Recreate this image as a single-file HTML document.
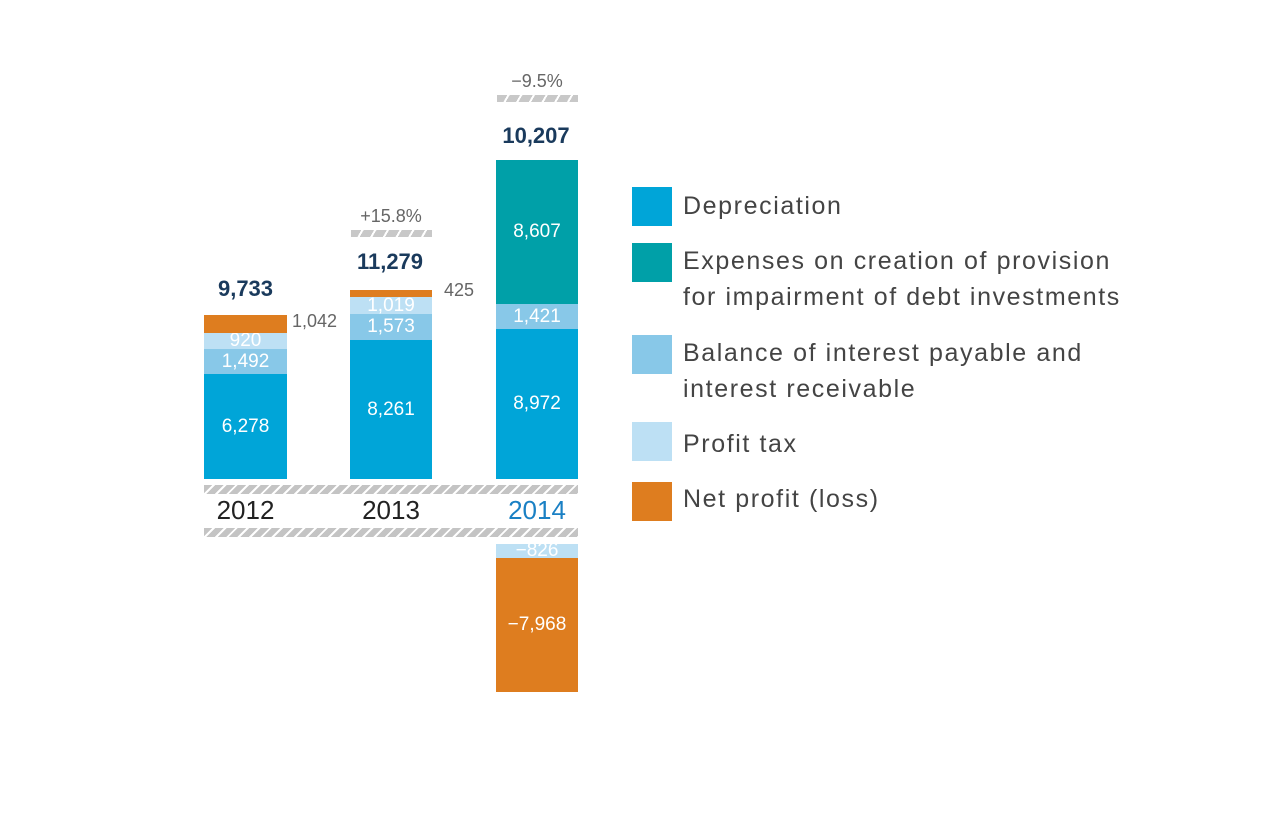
<!DOCTYPE html><html><head><style>
body{margin:0;width:1282px;height:830px;background:#fff;position:relative;font-family:"Liberation Sans",sans-serif;overflow:hidden}
.a{position:absolute}
.b{position:absolute;display:flex;align-items:center;justify-content:center;color:#fff;font-size:19px}
.h{position:absolute;background:repeating-linear-gradient(135deg,#c4c4c4 0 6px,#fff 6px 8px)}
.h2{position:absolute;background:repeating-linear-gradient(120deg,#c8c8c8 0 9px,#fff 9px 11px)}
.t{position:absolute;text-align:center;font-weight:bold;color:#1a3a5c;font-size:22px}
.g{position:absolute;color:#666;font-size:18px}
.sq{position:absolute;left:632px;width:40px;height:39px}
.lt{position:absolute;left:683px;font-size:25px;color:#444;line-height:36px;letter-spacing:1.6px;white-space:nowrap}
</style></head><body>
<div class="b" style="left:204px;width:83px;top:374px;height:105px;background:#00a5d8">6,278</div>
<div class="b" style="left:204px;width:83px;top:349px;height:25px;background:#88c8e8">1,492</div>
<div class="b" style="left:204px;width:83px;top:333px;height:16px;background:#bde0f4">920</div>
<div class="b" style="left:204px;width:83px;top:315px;height:18px;background:#de7d1f"></div>
<div class="g" style="left:292px;top:311px">1,042</div>
<div class="t" style="left:204px;width:83px;top:276px">9,733</div>

<div class="b" style="left:350px;width:82px;top:340px;height:139px;background:#00a5d8">8,261</div>
<div class="b" style="left:350px;width:82px;top:314px;height:26px;background:#88c8e8">1,573</div>
<div class="b" style="left:350px;width:82px;top:297px;height:17px;background:#bde0f4">1,019</div>
<div class="b" style="left:350px;width:82px;top:290px;height:7px;background:#de7d1f"></div>
<div class="g" style="left:444px;top:280px">425</div>
<div class="t" style="left:340px;width:100px;top:249px">11,279</div>
<div class="g" style="left:350px;width:82px;text-align:center;top:206px">+15.8%</div>
<div class="h2" style="left:351px;width:81px;top:230px;height:7px"></div>

<div class="b" style="left:496px;width:82px;top:329px;height:150px;background:#00a5d8">8,972</div>
<div class="b" style="left:496px;width:82px;top:304px;height:25px;background:#88c8e8">1,421</div>
<div class="b" style="left:496px;width:82px;top:160px;height:144px;background:#00a0a8">8,607</div>
<div class="t" style="left:486px;width:100px;top:123px">10,207</div>
<div class="g" style="left:496px;width:82px;text-align:center;top:71px">−9.5%</div>
<div class="h2" style="left:497px;width:81px;top:95px;height:7px"></div>

<div class="h" style="left:204px;width:374px;top:485px;height:9px"></div>
<div class="h" style="left:204px;width:374px;top:528px;height:9px"></div>
<div class="a" style="left:204px;width:83px;text-align:center;top:495px;font-size:26px;color:#222">2012</div>
<div class="a" style="left:350px;width:82px;text-align:center;top:495px;font-size:26px;color:#222">2013</div>
<div class="a" style="left:496px;width:82px;text-align:center;top:495px;font-size:26px;color:#1a80c4">2014</div>

<div class="b" style="left:496px;width:82px;top:544px;height:14px;background:#bde0f4">−826</div>
<div class="b" style="left:496px;width:82px;top:558px;height:134px;background:#de7d1f">−7,968</div>

<div class="sq" style="top:187px;background:#00a5d8"></div>
<div class="lt" style="top:188px">Depreciation</div>
<div class="sq" style="top:243px;background:#00a0a8"></div>
<div class="lt" style="top:243px">Expenses on creation of provision<br>for impairment of debt investments</div>
<div class="sq" style="top:335px;background:#88c8e8"></div>
<div class="lt" style="top:335px">Balance of interest payable and<br>interest receivable</div>
<div class="sq" style="top:422px;background:#bde0f4"></div>
<div class="lt" style="top:426px">Profit tax</div>
<div class="sq" style="top:482px;background:#de7d1f"></div>
<div class="lt" style="top:481px">Net profit (loss)</div>
</body></html>
